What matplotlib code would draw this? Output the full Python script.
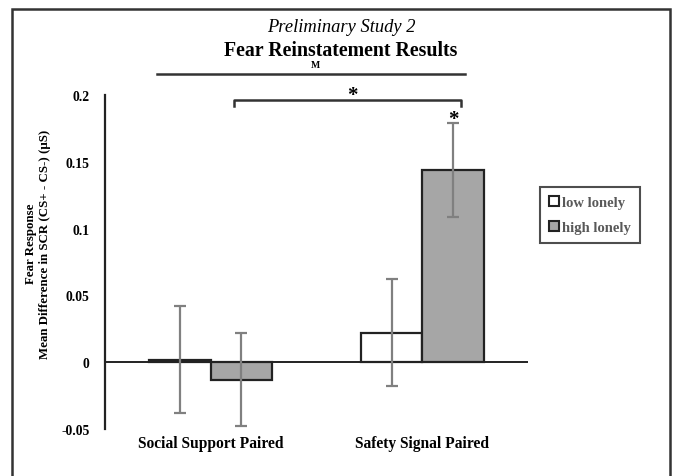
import numpy as np
import matplotlib
matplotlib.use('Agg')
import matplotlib.pyplot as plt
from matplotlib.patches import Rectangle, Patch

plt.rcParams['font.family'] = ['Liberation Serif', 'DejaVu Serif']

categories = ['Social Support Paired', 'Safety Signal Paired']
groups = ['low lonely', 'high lonely']
low_mean = [0.002, 0.022]
low_err = [0.040, 0.040]
high_mean = [-0.013, 0.144]
high_err = [0.035, 0.035]
yticks = [-0.05, 0, 0.05, 0.1, 0.15, 0.2]
ytick_labels = ['-0.05', '0', '0.05', '0.1', '0.15', '0.2']

W, H = 674, 477
fig = plt.figure(figsize=(W/100, H/100), dpi=100)
ax = fig.add_axes([105/W, (H-430)/H, (528-105)/W, (430-96)/H])

x = np.arange(len(categories))
bw = 0.29
ecol = '#808080'
ekw = dict(ecolor=ecol, elinewidth=1.6, capsize=4, capthick=1.6)
ax.bar(x - bw/2, low_mean, bw, yerr=low_err, color='white', edgecolor='#222222',
       linewidth=1.6, error_kw=ekw, zorder=2)
ax.bar(x + bw/2, high_mean, bw, yerr=high_err, color='#a6a6a6', edgecolor='#222222',
       linewidth=1.6, error_kw=ekw, zorder=2)
ax.axhline(0, color='#222222', lw=1.4, zorder=1)

ax.set_xlim(-0.5, 1.5)
ax.set_ylim(-0.05, 0.2)
ax.set_yticks(yticks)
ax.set_yticklabels(ytick_labels, fontweight='bold', fontsize=9.8)
ax.set_xticks(x)
ax.set_xticklabels(categories, fontweight='bold', fontsize=11.2)
ax.tick_params(axis='y', length=0, pad=11)
ax.tick_params(axis='x', length=0, pad=4)
for s in ['top', 'right', 'bottom']:
    ax.spines[s].set_visible(False)
ax.spines['left'].set_linewidth(1.6)
ax.spines['left'].set_color('#222222')

# significance markers
ax.plot([-0.256, 1.204], [0.2156, 0.2156], color='#333333', lw=1.8, clip_on=False)
ax.text(0.493, 0.2195, 'M', ha='center', va='bottom', fontsize=7, fontweight='bold')
ax.plot([0.109, 0.109, 1.185, 1.185], [0.192, 0.196, 0.196, 0.192], color='#333333',
        lw=1.8, clip_on=False)
ax.text(0.668, 0.1965, '*', ha='center', va='baseline', fontsize=15, fontweight='bold')
ax.text(1 + bw/2, 0.1785, '*', ha='center', va='baseline', fontsize=15, fontweight='bold')

fig.text(341/W, 1 - 28/H, 'Preliminary Study 2', ha='center', va='center',
         fontsize=13.3, style='italic')
fig.text(341/W, 1 - 51/H, 'Fear Reinstatement Results', ha='center', va='center',
         fontsize=14.3, fontweight='bold')
fig.text(38/W, 1 - 244/H, 'Fear Response\nMean Difference in SCR (CS+ - CS-) (\u03bcS)',
         ha='center', va='center', rotation=90, fontsize=9.3, fontweight='bold',
         linespacing=1.2)

handles = [Patch(facecolor='white', edgecolor='#222222', lw=1.5),
           Patch(facecolor='#a6a6a6', edgecolor='#222222', lw=1.5)]
leg = fig.legend(handles, groups, loc='center', bbox_to_anchor=(590/W, 1 - 216/H),
                 frameon=True, fancybox=False, edgecolor='#222222', handlelength=0.7,
                 handleheight=0.7, handletextpad=0.2, labelspacing=0.8,
                 prop={'weight': 'bold', 'size': 10.5}, borderpad=0.6)
leg.get_frame().set_linewidth(1.5)
for t in leg.get_texts():
    t.set_color('#595959')

fig.patches.append(Rectangle((12/W, -0.1), (670-12)/W, (H-10)/H + 0.1,
                             transform=fig.transFigure, fill=False,
                             edgecolor='#333333', lw=1.8))

fig.savefig('out.png', dpi=100)
